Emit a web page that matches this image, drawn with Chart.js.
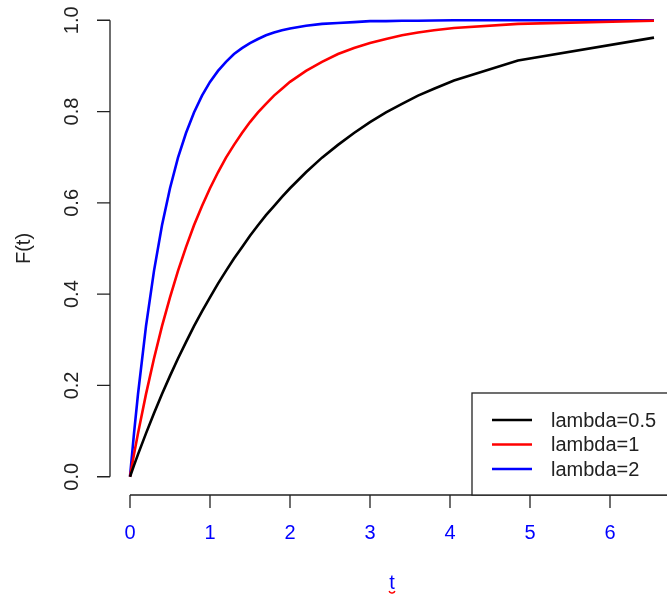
<!DOCTYPE html>
<html>
<head>
<meta charset="utf-8">
<script src="https://cdn.jsdelivr.net/npm/chart.js@4/dist/chart.umd.min.js"></script>
<style>
html,body{margin:0;padding:0;background:#fff;}
#wrap{width:667px;height:596px;position:relative;}
</style>
</head>
<body>
<div id="wrap"><canvas id="c" width="667" height="596"></canvas></div>
<script>
// Data
const tValues = [0, 0.05, 0.1, 0.2, 0.3, 0.4, 0.5, 0.6, 0.7, 0.8, 0.9, 1.0, 1.1, 1.2, 1.3, 1.4, 1.5, 1.6, 1.7, 1.8, 1.9, 2.0, 2.2, 2.4, 2.6, 2.8, 3.0, 3.2, 3.4, 3.6, 3.8, 4.05, 4.85, 6.55];
const lambdaHalf = [0, 0.025, 0.049, 0.095, 0.139, 0.181, 0.221, 0.259, 0.295, 0.330, 0.362, 0.393, 0.423, 0.451, 0.478, 0.503, 0.528, 0.551, 0.573, 0.593, 0.613, 0.632, 0.667, 0.699, 0.727, 0.753, 0.777, 0.798, 0.817, 0.835, 0.850, 0.868, 0.912, 0.962];
const lambdaOne  = [0, 0.049, 0.095, 0.181, 0.259, 0.330, 0.393, 0.451, 0.503, 0.551, 0.593, 0.632, 0.667, 0.699, 0.727, 0.753, 0.777, 0.798, 0.817, 0.835, 0.850, 0.865, 0.889, 0.909, 0.926, 0.939, 0.950, 0.959, 0.967, 0.973, 0.978, 0.983, 0.992, 0.999];
const lambdaTwo  = [0, 0.095, 0.181, 0.330, 0.451, 0.551, 0.632, 0.699, 0.753, 0.798, 0.835, 0.865, 0.889, 0.909, 0.926, 0.939, 0.950, 0.959, 0.967, 0.973, 0.978, 0.982, 0.988, 0.992, 0.994, 0.996, 0.998, 0.998, 0.999, 0.999, 0.9995, 1.000, 1.000, 1.000];
const seriesLabels = ["lambda=0.5", "lambda=1", "lambda=2"];
const seriesColors = ["#000000", "#ff0000", "#0000ff"];
const xTicks = [0, 1, 2, 3, 4, 5, 6];
const yTicks = [0, 0.2, 0.4, 0.6, 0.8, 1.0];
const yTickLabels = ["0.0", "0.2", "0.4", "0.6", "0.8", "1.0"];
const xTitle = "t";
const yTitle = "F(t)";

const toPts = arr => tValues.map((t, i) => ({x: t, y: arr[i]}));
const FONT = '"Liberation Sans", Arial, sans-serif';

const rAxes = {
  id: 'rAxes',
  afterDraw(chart) {
    const ctx = chart.ctx;
    const xs = chart.scales.x, ys = chart.scales.y;
    const area = chart.chartArea;
    ctx.save();
    ctx.strokeStyle = '#222';
    ctx.lineWidth = 1.3;
    // y axis
    const yAxX = area.left + 1;
    ctx.beginPath();
    ctx.moveTo(yAxX, ys.getPixelForValue(yTicks[0]));
    ctx.lineTo(yAxX, ys.getPixelForValue(yTicks[yTicks.length - 1]));
    yTicks.forEach(v => {
      const p = ys.getPixelForValue(v);
      ctx.moveTo(yAxX, p); ctx.lineTo(yAxX - 13, p);
    });
    ctx.stroke();
    // x axis
    const xAxY = area.bottom;
    ctx.beginPath();
    ctx.moveTo(xs.getPixelForValue(xTicks[0]), xAxY);
    ctx.lineTo(area.right + 5, xAxY);
    xTicks.forEach(v => {
      const p = xs.getPixelForValue(v);
      ctx.moveTo(p, xAxY); ctx.lineTo(p, xAxY + 13);
    });
    ctx.stroke();
    // y tick labels (rotated)
    ctx.fillStyle = '#222';
    ctx.font = '20px ' + FONT;
    ctx.textAlign = 'center';
    ctx.textBaseline = 'middle';
    yTicks.forEach((v, i) => {
      const p = ys.getPixelForValue(v);
      ctx.save();
      ctx.translate(72, p);
      ctx.rotate(-Math.PI / 2);
      ctx.fillText(yTickLabels[i], 0, 0);
      ctx.restore();
    });
    // x tick labels
    ctx.fillStyle = '#0000ff';
    xTicks.forEach(v => {
      ctx.fillText(String(v), xs.getPixelForValue(v), 533);
    });
    // titles
    ctx.save();
    ctx.translate(24, (area.top + area.bottom) / 2);
    ctx.rotate(-Math.PI / 2);
    ctx.fillStyle = '#222';
    ctx.fillText(yTitle, 0, 0);
    ctx.restore();
    ctx.fillStyle = '#0000ff';
    ctx.fillText(xTitle, 392, 583);
    ctx.strokeStyle = '#ff0000';
    ctx.lineWidth = 1.5;
    ctx.beginPath();
    ctx.arc(392, 590, 3, 0.1 * Math.PI, 0.9 * Math.PI);
    ctx.stroke();
    // legend
    ctx.strokeStyle = '#222';
    ctx.lineWidth = 1.3;
    ctx.fillStyle = '#fff';
    ctx.fillRect(472, 393, 210, xAxY - 393);
    ctx.strokeRect(472, 393, 210, xAxY - 393);
    const rowsY = [420, 444.5, 469];
    seriesLabels.forEach((lab, i) => {
      ctx.strokeStyle = seriesColors[i];
      ctx.lineWidth = 2.5;
      ctx.beginPath();
      ctx.moveTo(492, rowsY[i]); ctx.lineTo(532, rowsY[i]);
      ctx.stroke();
      ctx.fillStyle = '#222';
      ctx.textAlign = 'left';
      ctx.fillText(lab, 551, rowsY[i] + 1);
    });
    ctx.restore();
  }
};

new Chart(document.getElementById('c'), {
  type: 'line',
  data: {
    datasets: [lambdaHalf, lambdaOne, lambdaTwo].map((arr, i) => ({
      label: seriesLabels[i],
      data: toPts(arr),
      borderColor: seriesColors[i],
      borderWidth: 2.6,
      pointRadius: 0,
      tension: 0,
      fill: false
    }))
  },
  options: {
    responsive: false,
    animation: false,
    devicePixelRatio: 1,
    layout: {padding: {left: 109, right: 0, top: 2, bottom: 101}},
    plugins: {legend: {display: false}, tooltip: {enabled: false}},
    scales: {
      x: {type: 'linear', min: -0.2625, max: 6.7125, display: false},
      y: {type: 'linear', min: -0.04, max: 1.04, display: false}
    }
  },
  plugins: [rAxes]
});
</script>
</body>
</html>
